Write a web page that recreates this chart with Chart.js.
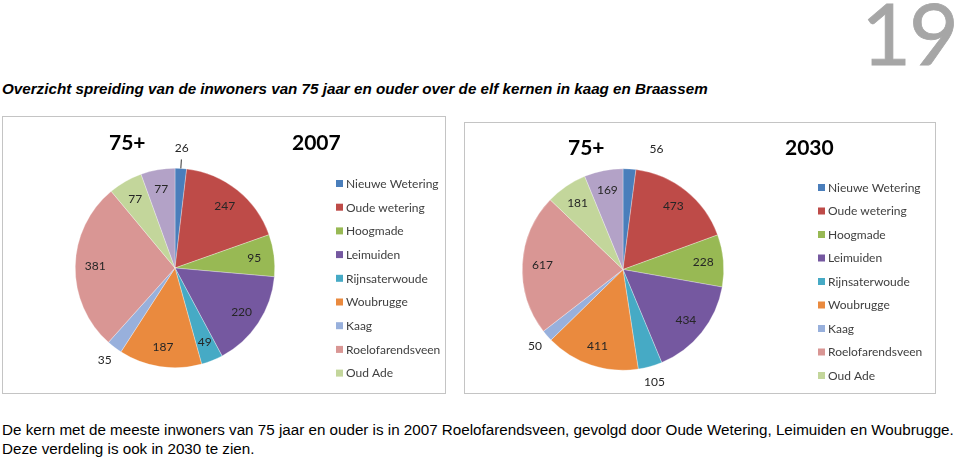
<!DOCTYPE html>
<html>
<head>
<meta charset="utf-8">
<script src="https://cdn.jsdelivr.net/npm/chart.js@4"></script>
<style>
    body { margin: 0; width: 960px; height: 460px; background: #fff; position: relative; overflow: hidden; font-family: "Liberation Sans", Arial, sans-serif; }
    .page__nr { position: absolute; right: 3px; top: -20px; font-family: Lato, sans-serif; font-weight: 400; font-size: 86px; color: #a6a6a6; letter-spacing: -2px; -webkit-text-stroke: 0.8px #a6a6a6; }
    .page__title { position: absolute; left: 2px; top: 80px; font-size: 15.2px; font-weight: bold; font-style: italic; color: #000; white-space: nowrap; }
    .chart__box { position: absolute; border: 1px solid #c4c4c4; box-sizing: border-box; }
    .chart__box canvas { display: block; }
    .page__text { position: absolute; left: 2px; top: 420px; font-size: 15.2px; line-height: 19px; color: #000; white-space: nowrap; }
</style>
</head>
<body>
<div class="page__nr">19</div>
<div class="page__title">Overzicht spreiding van de inwoners van 75 jaar en ouder over de elf kernen in kaag en Braassem</div>
<div class="chart__box" style="left:2px;top:116px;width:444px;height:278px;"><canvas id="chart2007" width="442" height="276"></canvas></div>
<div class="chart__box" style="left:464px;top:122px;width:472px;height:272px;"><canvas id="chart2030" width="470" height="270"></canvas></div>
<div class="page__text">De kern met de meeste inwoners van 75 jaar en ouder is in 2007 Roelofarendsveen, gevolgd door Oude Wetering, Leimuiden en Woubrugge.<br>Deze verdeling is ook in 2030 te zien.</div>
<script>
const kernen = ["Nieuwe Wetering", "Oude wetering", "Hoogmade", "Leimuiden", "Rijnsaterwoude", "Woubrugge", "Kaag", "Roelofarendsveen", "Oud Ade", "Rijpwetering"];
const inwoners2007 = [26, 247, 95, 220, 49, 187, 35, 381, 77, 77];
const inwoners2030 = [56, 473, 228, 434, 105, 411, 50, 617, 181, 169];
const kleuren = ["#4A7EBB", "#BE4B48", "#98B954", "#7558A0", "#46AAC5", "#EA8A3E", "#98B0DC", "#D99694", "#C3D69B", "#B3A2C7"];

// labels die buiten de taart staan (index)
const buiten2007 = [0, 6];
const buiten2030 = [0, 4, 6];

const FONT = "Lato, 'Open Sans', sans-serif";

const labelPlugin = {
    id: "sliceLabels",
    afterDatasetsDraw(chart, args, opts) {
        const c = chart.ctx;
        const meta = chart.getDatasetMeta(0);
        const values = chart.data.datasets[0].data;
        c.save();
        c.font = "12px " + FONT;
        c.fillStyle = "#262626";
        c.textAlign = "center";
        c.textBaseline = "middle";
        meta.data.forEach((arc, i) => {
            const mid = (arc.startAngle + arc.endAngle) / 2;
            const outside = opts.outside.includes(i);
            const dist = outside ? arc.outerRadius + 16 : arc.outerRadius * 0.8;
            let x = arc.x + Math.cos(mid) * dist;
            let y = arc.y + Math.sin(mid) * dist;
            if (outside && i === 0) {
                x += opts.firstShift;
                y -= 4;
                if (opts.leader) {
                    c.strokeStyle = "#333";
                    c.lineWidth = 1;
                    c.beginPath();
                    c.moveTo(arc.x + Math.cos(mid) * arc.outerRadius, arc.y + Math.sin(mid) * arc.outerRadius);
                    c.lineTo(arc.x + Math.cos(mid) * (arc.outerRadius + 9), arc.y + Math.sin(mid) * (arc.outerRadius + 9));
                    c.stroke();
                }
            }
            c.fillText(values[i], x, y);
        });
        c.restore();
    },
};

// legenda rechts, valt onderaan weg net als in het origineel
const sideLegend = {
    id: "sideLegend",
    afterDraw(chart, args, opts) {
        const c = chart.ctx;
        c.save();
        c.font = "12px " + FONT;
        c.textBaseline = "middle";
        kernen.forEach((naam, i) => {
            const y = opts.top + i * opts.step;
            if (y + 6 > chart.height) return;
            c.fillStyle = kleuren[i];
            c.fillRect(opts.left, y - 4, 7, 7);
            c.fillStyle = "#404040";
            c.fillText(naam, opts.left + 10, y);
        });
        c.restore();
    },
};

const titles = {
    id: "titles",
    afterDraw(chart, args, opts) {
        const c = chart.ctx;
        c.save();
        c.font = "bold 21px " + FONT;
        c.fillStyle = "#000";
        c.textBaseline = "middle";
        c.fillText("75+", opts.x1, opts.y);
        c.fillText(opts.jaar, opts.x2, opts.y);
        c.restore();
    },
};

const makePie = (id, values, padding, extra) => {
    new Chart(document.getElementById(id), {
        type: "pie",
        data: {
            labels: kernen,
            datasets: [{ data: values, backgroundColor: kleuren, borderWidth: 0.5, borderColor: "rgba(255,255,255,0.6)" }],
        },
        options: {
            responsive: false,
            animation: false,
            layout: { padding },
            plugins: {
                legend: { display: false },
                tooltip: { enabled: false },
                sliceLabels: extra.labels,
                sideLegend: extra.legend,
                titles: extra.titles,
            },
        },
        plugins: [labelPlugin, sideLegend, titles],
    });
};

makePie("chart2007", inwoners2007, { left: 72, top: 51, right: 170, bottom: 25 }, {
    labels: { outside: buiten2007, firstShift: 0, leader: true },
    legend: { left: 333, top: 67, step: 23.7 },
    titles: { x1: 106, x2: 289, y: 26, jaar: "2007" },
});

makePie("chart2030", inwoners2030, { left: 57, top: 45, right: 211, bottom: 22 }, {
    labels: { outside: buiten2030, firstShift: 26, leader: false },
    legend: { left: 353, top: 65, step: 23.5 },
    titles: { x1: 103, x2: 320, y: 25, jaar: "2030" },
});
</script>
</body>
</html>
